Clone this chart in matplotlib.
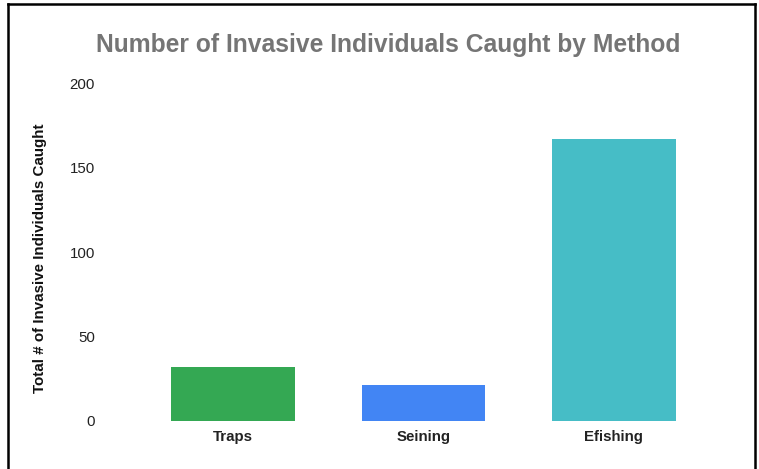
import matplotlib
matplotlib.use('Agg')
import matplotlib.pyplot as plt
from matplotlib.lines import Line2D

plt.rcParams['font.family'] = ['Liberation Sans', 'DejaVu Sans']

# Catch totals per method
methods = ['Traps', 'Seining', 'Efishing']
caught = [32, 21, 167]
bar_colors = ['#34a853', '#4285f4', '#46bdc6']
y_ticks = [0, 50, 100, 150, 200]

W, H = 759, 469
fig = plt.figure(figsize=(W / 100, H / 100), dpi=100)
ax = fig.add_axes([138 / W, 1 - 420.7 / H, (709 - 138) / W, (420.7 - 83.4) / H])

x = range(len(methods))
ax.bar(x, caught, width=0.65, color=bar_colors)

ax.set_xlim(-0.5, 2.5)
ax.set_ylim(0, 200)
ax.set_yticks(y_ticks)
ax.set_yticklabels([str(t) for t in y_ticks], fontsize=10.8, color='#222222')
ax.set_xticks(list(x))
ax.set_xticklabels(methods, fontsize=10.8, fontweight='bold', color='#222222')
ax.tick_params(axis='y', length=0, pad=31)
ax.tick_params(axis='x', length=0, pad=7)
for side in ax.spines.values():
    side.set_visible(False)

fig.text(388 / W, 1 - 52 / H, 'Number of Invasive Individuals Caught by Method',
         ha='center', va='baseline', fontsize=17.7, fontweight='bold', color='#757575')
fig.text(40 / W, 1 - 258 / H, 'Total # of Invasive Individuals Caught',
         rotation=90, ha='center', va='center', fontsize=10.9, fontweight='bold',
         color='#111111')

# outer frame (left, top, right)
fig.add_artist(Line2D([8 / W, 8 / W], [0, 1 - 4 / H], transform=fig.transFigure,
                      color='black', lw=1.8))
fig.add_artist(Line2D([8 / W, 755 / W], [1 - 4 / H, 1 - 4 / H], transform=fig.transFigure,
                      color='black', lw=1.8))
fig.add_artist(Line2D([755 / W, 755 / W], [0, 1 - 4 / H], transform=fig.transFigure,
                      color='black', lw=1.8))

fig.savefig('out.png', dpi=100)
